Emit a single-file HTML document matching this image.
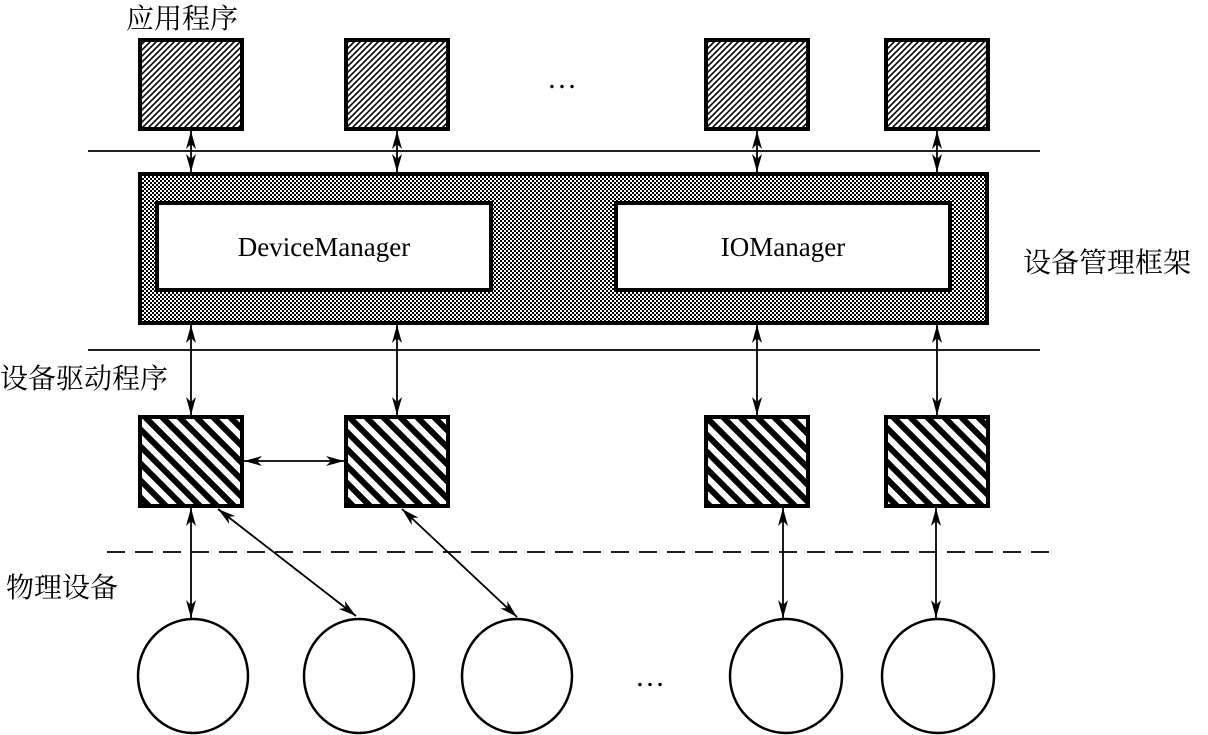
<!DOCTYPE html>
<html><head><meta charset="utf-8"><style>
html,body{margin:0;padding:0;background:#fff;}
svg{display:block}
text{font-family:"Liberation Serif","Noto Serif CJK SC",serif;fill:#000}
.cjk{font-family:"Liberation Serif","Noto Serif CJK SC",serif}
</style></head><body>
<svg width="1208" height="735" viewBox="0 0 1208 735" xmlns="http://www.w3.org/2000/svg">
<defs>
<pattern id="fine" width="6" height="6" patternUnits="userSpaceOnUse">
<rect width="6" height="6" fill="#fff"/>
<path d="M-1,7 L7,-1 M-4,4 L4,-4 M2,10 L10,2" stroke="#000" stroke-width="1.6"/>
</pattern>
<pattern id="check" width="4" height="4" patternUnits="userSpaceOnUse">
<rect width="4" height="4" fill="#fff"/>
<rect width="2" height="2" fill="#000"/><rect x="2" y="2" width="2" height="2" fill="#000"/>
</pattern>
<pattern id="stripe" width="17" height="17" patternUnits="userSpaceOnUse">
<rect width="17" height="17" fill="#fff"/>
<path d="M-2,-2 L19,19 M-19,-2 L2,19 M15,-2 L36,19" stroke="#000" stroke-width="6"/>
</pattern>
<marker id="a" viewBox="0 0 18 10" refX="18" refY="5" markerWidth="18" markerHeight="10" markerUnits="userSpaceOnUse" orient="auto-start-reverse">
<path d="M0,0 L18,5 L0,10 L5,5 z" fill="#000"/>
</marker>
</defs>
<g stroke="#000" stroke-width="4">
<rect x="140" y="40" width="102" height="89" fill="url(#fine)"/>
<rect x="346" y="40" width="102" height="89" fill="url(#fine)"/>
<rect x="706" y="40" width="102" height="89" fill="url(#fine)"/>
<rect x="886" y="40" width="102" height="89" fill="url(#fine)"/>
<rect x="140" y="174" width="847" height="149" fill="url(#check)"/>
<rect x="157" y="203" width="334" height="87" fill="#fff"/>
<rect x="616" y="203" width="334" height="87" fill="#fff"/>
<rect x="140" y="417" width="102" height="89" fill="url(#stripe)"/>
<rect x="346" y="417" width="102" height="89" fill="url(#stripe)"/>
<rect x="706" y="417" width="102" height="89" fill="url(#stripe)"/>
<rect x="886" y="417" width="102" height="89" fill="url(#stripe)"/>
</g>
<g stroke="#000" stroke-width="1.8" fill="none">
<line x1="88" y1="151" x2="1040" y2="151"/>
<line x1="88" y1="350" x2="1040" y2="350"/>
<line x1="107" y1="552" x2="1058" y2="552" stroke-dasharray="18,10"/>
<line x1="191" y1="131" x2="191" y2="172" marker-start="url(#a)" marker-end="url(#a)"/>
<line x1="397" y1="131" x2="397" y2="172" marker-start="url(#a)" marker-end="url(#a)"/>
<line x1="757" y1="131" x2="757" y2="172" marker-start="url(#a)" marker-end="url(#a)"/>
<line x1="937" y1="131" x2="937" y2="172" marker-start="url(#a)" marker-end="url(#a)"/>
<line x1="191" y1="325" x2="191" y2="415" marker-start="url(#a)" marker-end="url(#a)"/>
<line x1="397" y1="325" x2="397" y2="415" marker-start="url(#a)" marker-end="url(#a)"/>
<line x1="757" y1="325" x2="757" y2="415" marker-start="url(#a)" marker-end="url(#a)"/>
<line x1="937" y1="325" x2="937" y2="415" marker-start="url(#a)" marker-end="url(#a)"/>
<line x1="244" y1="461" x2="344" y2="461" marker-start="url(#a)" marker-end="url(#a)"/>
<line x1="191" y1="508" x2="191" y2="618" marker-start="url(#a)" marker-end="url(#a)"/>
<line x1="783" y1="508" x2="783" y2="618" marker-start="url(#a)" marker-end="url(#a)"/>
<line x1="936" y1="508" x2="936" y2="618" marker-start="url(#a)" marker-end="url(#a)"/>
<line x1="218" y1="509" x2="356" y2="616" marker-start="url(#a)" marker-end="url(#a)"/>
<line x1="402" y1="509" x2="517" y2="617" marker-start="url(#a)" marker-end="url(#a)"/>
<g stroke-width="2.5">
<ellipse cx="193" cy="676" rx="55" ry="57"/>
<ellipse cx="359" cy="676" rx="55" ry="57"/>
<ellipse cx="517" cy="676" rx="55" ry="57"/>
<ellipse cx="786" cy="676" rx="56" ry="57"/>
<ellipse cx="938" cy="676" rx="56" ry="57"/>
</g>
</g>
<text x="324" y="256" font-size="27" text-anchor="middle">DeviceManager</text>
<text x="783" y="256" font-size="27" text-anchor="middle">IOManager</text>
<text x="562" y="88" font-size="30" text-anchor="middle">…</text>
<text x="650" y="686" font-size="30" text-anchor="middle">…</text>
<text class="cjk" x="126" y="28" font-size="28">应用程序</text>
<text class="cjk" x="1023" y="272" font-size="28">设备管理框架</text>
<text class="cjk" x="0" y="388" font-size="28">设备驱动程序</text>
<text class="cjk" x="6" y="597" font-size="28">物理设备</text>
</svg>
</body></html>
